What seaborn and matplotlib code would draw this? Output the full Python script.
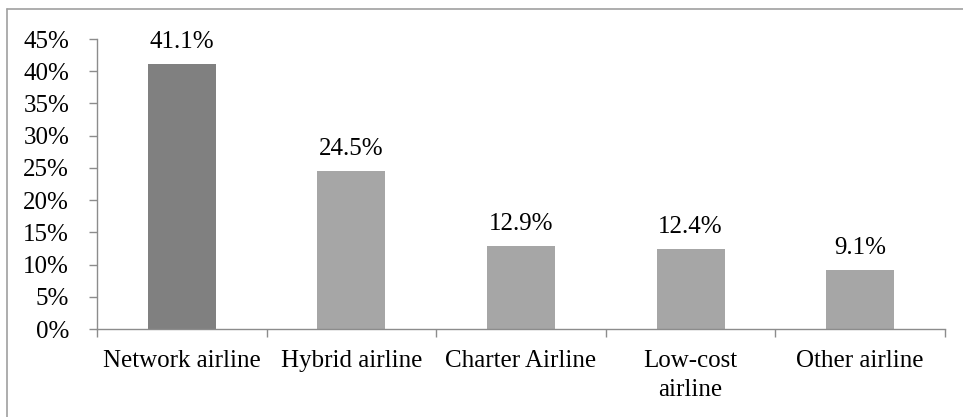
import pandas as pd
import matplotlib.pyplot as plt
import seaborn as sns
from matplotlib.lines import Line2D
from matplotlib.ticker import MultipleLocator, FuncFormatter

categories = ['Network airline', 'Hybrid airline', 'Charter Airline', 'Low-cost\nairline', 'Other airline']
shares = [41.1, 24.5, 12.9, 12.4, 9.1]
bar_colors = ['#808080', '#A6A6A6', '#A6A6A6', '#A6A6A6', '#A6A6A6']

df = pd.DataFrame({'category': categories, 'share': shares})

sns.set_theme(style='white')
plt.rcParams['font.family'] = ['Liberation Serif', 'DejaVu Serif']

FS = 18

fig = plt.figure(figsize=(9.63, 4.17), dpi=100)
ax = fig.add_axes([97 / 963, 1 - 329 / 417, 848 / 963, 290 / 417])

sns.barplot(data=df, x='category', y='share', hue='category', palette=bar_colors,
            width=0.4, legend=False, ax=ax, saturation=1, linewidth=0)

# Value labels above the bars
for i, v in enumerate(shares):
    ax.annotate(f'{v:.1f}%', (i, v), xytext=(0, 8), textcoords='offset points',
                ha='center', va='bottom', fontsize=FS, color='black', annotation_clip=False)

ax.set_ylim(0, 45)
ax.set_xlim(-0.5, len(categories) - 0.5)
ax.yaxis.set_major_locator(MultipleLocator(5))
ax.yaxis.set_major_formatter(FuncFormatter(lambda y, _: f'{y:.0f}%'))
ax.set_xlabel('')
ax.set_ylabel('')

for side in ['top', 'right']:
    ax.spines[side].set_visible(False)
for side in ['left', 'bottom']:
    ax.spines[side].set_color('#8C8C8C')
    ax.spines[side].set_linewidth(1.0)

# Category boundary ticks on x axis
ax.set_xticks(range(len(categories)))
ax.set_xticklabels(categories, fontsize=FS, color='black', linespacing=1.4)
ax.tick_params(axis='x', length=0, pad=15)
ax.set_xticks([i + 0.5 for i in range(-1, len(categories))], minor=True)
ax.tick_params(axis='x', which='minor', bottom=True, length=6, color='#8C8C8C', width=1)
ax.tick_params(axis='y', left=True, length=6, color='#8C8C8C', width=1, labelsize=FS,
               labelcolor='black', pad=14)

# Outer frame (only left and top visible in the reference)
fig.add_artist(Line2D([7 / 963, 7 / 963], [0, 1 - 9 / 417], transform=fig.transFigure,
                      color='#A0A0A0', lw=1.2))
fig.add_artist(Line2D([7 / 963, 1], [1 - 9 / 417, 1 - 9 / 417], transform=fig.transFigure,
                      color='#A0A0A0', lw=1.2))

fig.savefig('out.png', dpi=100)
plt.close(fig)
